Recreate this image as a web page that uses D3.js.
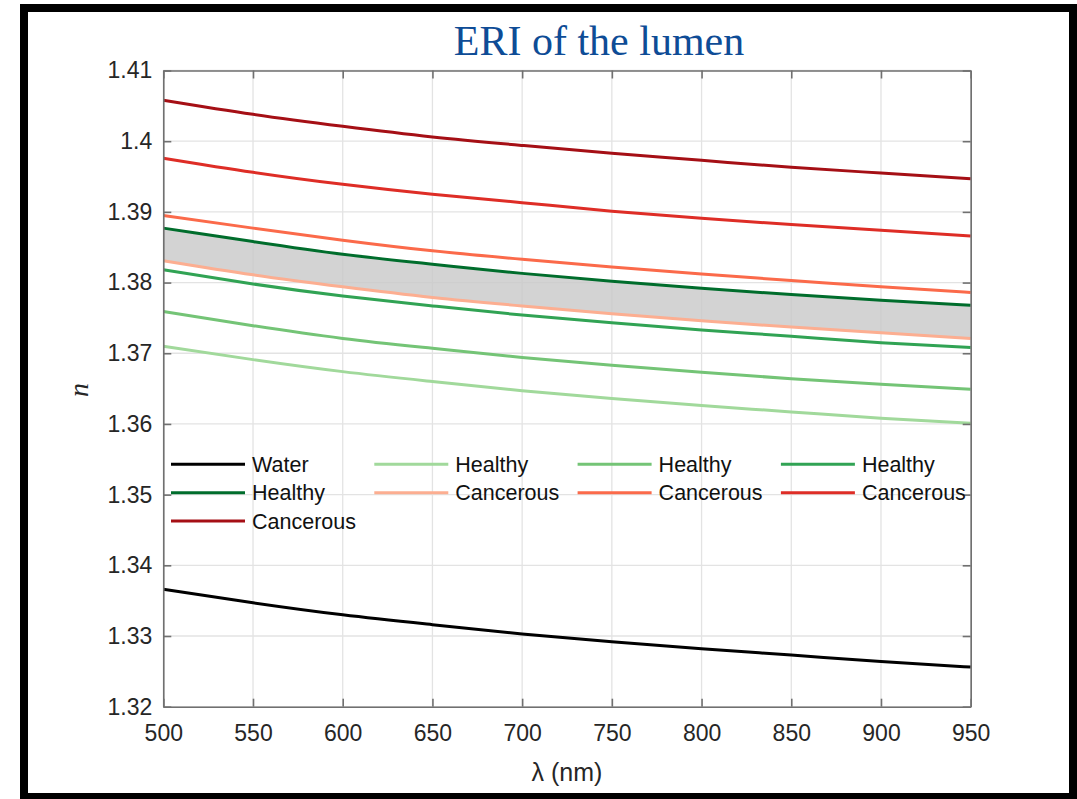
<!DOCTYPE html>
<html>
<head>
<meta charset="utf-8">
<script src="https://cdn.jsdelivr.net/npm/d3@7"></script>
<style>
    body { margin: 0; background: #fff; }
    svg { display: block; }
</style>
</head>
<body>
<svg width="1077" height="799"></svg>
<script>
// wavelength grid (nm)
var lambda = [500, 550, 600, 650, 700, 750, 800, 850, 900, 950];

// refractive index curves
var water    = [1.3366, 1.3347, 1.3330, 1.3316, 1.3303, 1.3292, 1.3282, 1.3273, 1.3264, 1.3256];
var healthy1 = [1.3710, 1.3691, 1.3674, 1.3660, 1.3647, 1.3636, 1.3626, 1.3617, 1.3608, 1.3601];
var healthy2 = [1.3759, 1.3739, 1.3721, 1.3707, 1.3694, 1.3683, 1.3673, 1.3664, 1.3656, 1.3649];
var healthy3 = [1.3818, 1.3798, 1.3781, 1.3767, 1.3754, 1.3743, 1.3733, 1.3724, 1.3715, 1.3708];
var healthy4 = [1.3877, 1.3858, 1.3840, 1.3826, 1.3813, 1.3802, 1.3792, 1.3783, 1.3775, 1.3768];
var cancer1  = [1.3831, 1.3811, 1.3794, 1.3779, 1.3767, 1.3756, 1.3746, 1.3737, 1.3729, 1.3721];
var cancer2  = [1.3895, 1.3877, 1.3860, 1.3845, 1.3833, 1.3822, 1.3812, 1.3803, 1.3794, 1.3786];
var cancer3  = [1.3976, 1.3956, 1.3939, 1.3925, 1.3913, 1.3901, 1.3891, 1.3882, 1.3874, 1.3866];
var cancer4  = [1.4058, 1.4038, 1.4021, 1.4006, 1.3994, 1.3983, 1.3973, 1.3963, 1.3955, 1.3947];

var xTicks = [500, 550, 600, 650, 700, 750, 800, 850, 900, 950];
var yTicks = [1.32, 1.33, 1.34, 1.35, 1.36, 1.37, 1.38, 1.39, 1.40, 1.41];

var seriesNames = ["Water", "Healthy", "Healthy", "Healthy", "Healthy",
                   "Cancerous", "Cancerous", "Cancerous", "Cancerous"];
var seriesValues = [water, healthy1, healthy2, healthy3, healthy4,
                    cancer1, cancer2, cancer3, cancer4];
var seriesColors = ["#000000", "#a1d99b", "#74c476", "#31a354", "#006d2c",
                    "#fcae91", "#fb6a4a", "#de2d26", "#a50f15"];

var svg = d3.select("svg"),
    margin = { top: 70.5, right: 106.3, bottom: 92.3, left: 163.3 },
    width = +svg.attr("width") - margin.left - margin.right,
    height = +svg.attr("height") - margin.top - margin.bottom;

// black frame round the figure
svg.append("rect")
    .attr("x", 24).attr("y", 8)
    .attr("width", 1049).attr("height", 789)
    .attr("fill", "#fff")
    .attr("stroke", "#000")
    .attr("stroke-width", 8);

var g = svg.append("g").attr("transform", "translate(" + margin.left + "," + margin.top + ")");

var x = d3.scaleLinear().domain([500, 950]).range([0, width]);
var y = d3.scaleLinear().domain([1.32, 1.41]).range([height, 0]);

var font = "Arial, 'Liberation Sans', Helvetica, sans-serif";

// grid
g.append("g").selectAll("line").data(xTicks).enter().append("line")
    .attr("x1", function (d) { return x(d); }).attr("x2", function (d) { return x(d); })
    .attr("y1", 0).attr("y2", height)
    .attr("stroke", "#e3e3e3").attr("stroke-width", 1.3);
g.append("g").selectAll("line").data(yTicks).enter().append("line")
    .attr("y1", function (d) { return y(d); }).attr("y2", function (d) { return y(d); })
    .attr("x1", 0).attr("x2", width)
    .attr("stroke", "#e3e3e3").attr("stroke-width", 1.3);

// grey band between darkest healthy and lightest cancerous
var band = lambda.map(function (l, i) { return { l: l, hi: healthy4[i], lo: cancer1[i] }; });
g.append("path")
    .datum(band)
    .attr("fill", "#c8c8c8")
    .attr("fill-opacity", 0.8)
    .attr("d", d3.area()
        .curve(d3.curveNatural)
        .x(function (d) { return x(d.l); })
        .y0(function (d) { return y(d.lo); })
        .y1(function (d) { return y(d.hi); }));

// curves
var line = d3.line()
    .curve(d3.curveNatural)
    .x(function (d, i) { return x(lambda[i]); })
    .y(function (d) { return y(d); });

g.selectAll(".curve")
    .data(seriesValues)
    .enter().append("path")
    .attr("class", "curve")
    .attr("fill", "none")
    .attr("stroke", function (d, i) { return seriesColors[i]; })
    .attr("stroke-width", 3)
    .attr("d", line);

// axes (box with inward ticks)
var axisColor = "#707070";
g.append("g")
    .attr("transform", "translate(0," + height + ")")
    .call(d3.axisBottom(x).tickValues(xTicks).tickSizeInner(-8).tickSizeOuter(0).tickPadding(18));
g.append("g")
    .call(d3.axisTop(x).tickValues(xTicks).tickSizeInner(-8).tickSizeOuter(0).tickFormat(""));
g.append("g")
    .call(d3.axisLeft(y).tickValues(yTicks).tickSizeInner(-8).tickSizeOuter(0).tickPadding(11)
        .tickFormat(function (d) { return d3.format("")(+d.toFixed(2)); }));
g.append("g")
    .attr("transform", "translate(" + width + ",0)")
    .call(d3.axisRight(y).tickValues(yTicks).tickSizeInner(-8).tickSizeOuter(0).tickFormat(""));

g.selectAll(".domain").attr("stroke", axisColor).attr("stroke-width", 1.6);
g.selectAll(".tick line").attr("stroke", axisColor).attr("stroke-width", 1.6);
g.selectAll(".tick text")
    .attr("fill", "#262626")
    .style("font-family", font)
    .style("font-size", "23px");

// legend, 4 columns filled row by row
var legend = g.append("g").attr("transform", "translate(" + (171 - margin.left) + "," + (464.3 - margin.top) + ")");
var item = legend.selectAll(".item")
    .data(seriesNames)
    .enter().append("g")
    .attr("class", "item")
    .attr("transform", function (d, i) {
        return "translate(" + ((i % 4) * 203.3) + "," + (Math.floor(i / 4) * 28.4) + ")";
    });
item.append("line")
    .attr("x1", 0).attr("x2", 74)
    .attr("stroke", function (d, i) { return seriesColors[i]; })
    .attr("stroke-width", 3);
item.append("text")
    .attr("x", 81)
    .attr("dy", "0.36em")
    .attr("fill", "#111")
    .style("font-family", font)
    .style("font-size", "21.5px")
    .text(function (d) { return d; });

// labels
svg.append("text")
    .attr("x", 599).attr("y", 55)
    .attr("text-anchor", "middle")
    .attr("fill", "#0e4c96")
    .style("font-family", "'Times New Roman', 'Liberation Serif', serif")
    .style("font-size", "42px")
    .text("ERI of the lumen");

svg.append("text")
    .attr("x", margin.left + width / 2).attr("y", 781)
    .attr("text-anchor", "middle")
    .attr("fill", "#262626")
    .style("font-family", font)
    .style("font-size", "25px")
    .text("λ (nm)");

svg.append("text")
    .attr("transform", "translate(88,390) rotate(-90)")
    .attr("text-anchor", "middle")
    .attr("fill", "#262626")
    .style("font-family", "'Times New Roman', 'Liberation Serif', serif")
    .style("font-style", "italic")
    .style("font-size", "28px")
    .text("n");
</script>
</body>
</html>
